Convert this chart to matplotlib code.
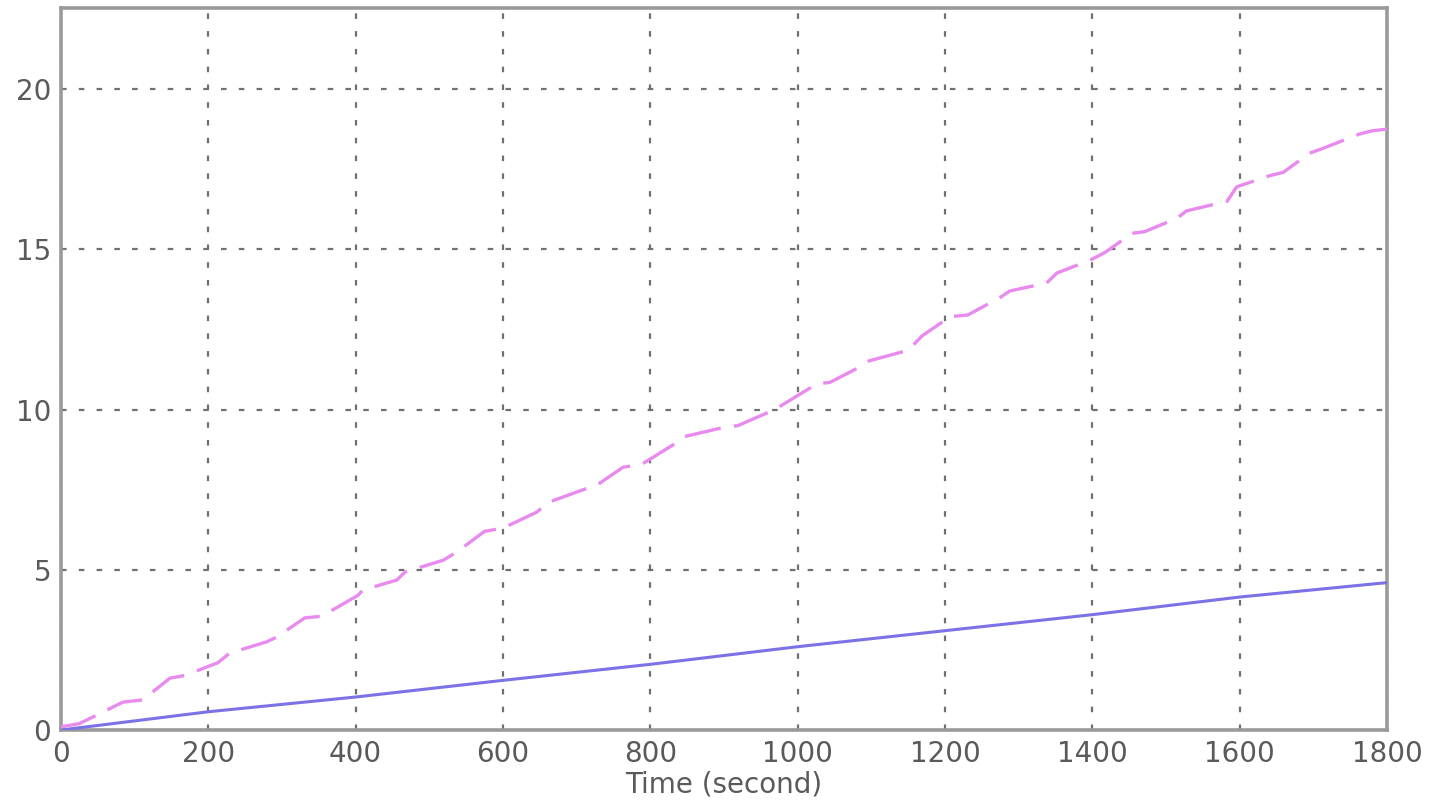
import matplotlib
matplotlib.use("Agg")
import matplotlib.pyplot as plt

# Data
time_magenta = [0, 25, 49, 84, 111, 148, 168, 213, 229, 279, 293, 331, 354, 403, 410, 456,
                467, 519, 537, 575, 600, 646, 661, 709, 728, 763, 789, 831, 845, 901, 919,
                969, 976, 1026, 1044, 1082, 1094, 1150, 1169, 1207, 1231, 1275, 1288, 1338,
                1352, 1397, 1417, 1454, 1471, 1515, 1528, 1583, 1596, 1641, 1659, 1695,
                1713, 1763, 1780, 1800]
value_magenta = [0.1, 0.2, 0.47, 0.87, 0.94, 1.62, 1.7, 2.1, 2.4, 2.75, 2.9, 3.5, 3.55, 4.2,
                 4.37, 4.68, 4.93, 5.3, 5.55, 6.2, 6.3, 6.8, 7.1, 7.5, 7.65, 8.2, 8.3, 8.9,
                 9.15, 9.45, 9.5, 10.0, 10.1, 10.8, 10.85, 11.3, 11.5, 11.85, 12.3, 12.9,
                 12.95, 13.5, 13.7, 13.95, 14.26, 14.66, 14.9, 15.5, 15.55, 15.97, 16.2,
                 16.5, 16.95, 17.3, 17.4, 18.0, 18.15, 18.6, 18.7, 18.75]

time_blue = [0, 200, 400, 600, 800, 1000, 1200, 1400, 1600, 1800]
value_blue = [0.0, 0.57, 1.03, 1.55, 2.05, 2.6, 3.1, 3.6, 4.15, 4.6]

x_ticks = [0, 200, 400, 600, 800, 1000, 1200, 1400, 1600, 1800]
y_ticks = [0, 5, 10, 15, 20]
x_label = "Time (second)"

fig = plt.figure(figsize=(14.37, 8.01), dpi=100)
ax = fig.add_axes([0.0424, 0.0886, 0.9228, 0.9014])

ax.plot(time_blue, value_blue, color="#7a72e6", linewidth=2.2, solid_capstyle="butt", zorder=3)
ax.plot(time_magenta, value_magenta, color="#e88aee", linewidth=2.4,
        linestyle=(0, (11, 4)), zorder=3)

ax.set_xlim(0, 1800)
ax.set_ylim(0, 22.53)
ax.set_xticks(x_ticks)
ax.set_yticks(y_ticks)
ax.grid(True, color="#707070", linestyle=(0, (2.5, 5.5)), linewidth=1.6, zorder=1)
ax.tick_params(length=0, labelsize=20, colors="#5a5a5a", pad=7)
for s in ax.spines.values():
    s.set_color("#9a9a9a")
    s.set_linewidth(2.6)
ax.set_xlabel(x_label, fontsize=20, color="#5a5a5a", labelpad=2)

fig.savefig("out.png", dpi=100)
